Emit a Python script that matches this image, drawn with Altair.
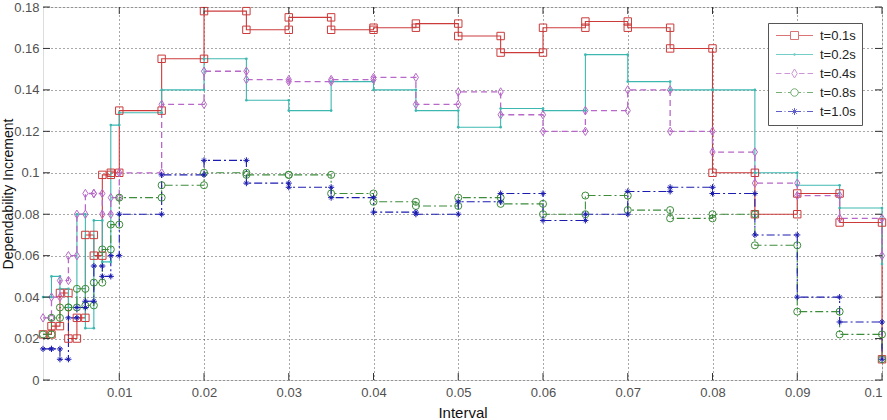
import altair as alt
import pandas as pd

# Interval boundaries (x) shared by every series
x_edges = [0.001, 0.002, 0.003, 0.004, 0.005, 0.006, 0.007, 0.008, 0.009, 0.010,
           0.015, 0.020, 0.025, 0.030, 0.035, 0.040, 0.045, 0.050, 0.055, 0.060,
           0.065, 0.070, 0.075, 0.080, 0.085, 0.090, 0.095, 0.100]

series_names = ["t=0.1s", "t=0.2s", "t=0.4s", "t=0.8s", "t=1.0s"]

# Dependability increment per interval (value holds from x_edges[i] to x_edges[i+1])
inc_t01 = [0.022, 0.026, 0.042, 0.020, 0.030, 0.070, 0.060, 0.099, 0.100, 0.130,
           0.155, 0.178, 0.169, 0.175, 0.169, 0.170, 0.172, 0.166, 0.158, 0.170,
           0.173, 0.170, 0.160, 0.100, 0.080, 0.090, 0.076, 0.010]
inc_t02 = [0.040, 0.050, 0.044, 0.035, 0.080, 0.025, 0.077, 0.057, 0.123, 0.129,
           0.140, 0.155, 0.135, 0.130, 0.144, 0.140, 0.130, 0.122, 0.131, 0.130,
           0.157, 0.144, 0.140, 0.140, 0.100, 0.094, 0.083, 0.056]
inc_t04 = [0.030, 0.040, 0.048, 0.060, 0.080, 0.090, 0.090, 0.080, 0.088, 0.100,
           0.133, 0.149, 0.145, 0.144, 0.145, 0.146, 0.133, 0.139, 0.128, 0.120,
           0.130, 0.140, 0.120, 0.110, 0.095, 0.089, 0.078, 0.060]
inc_t08 = [0.022, 0.030, 0.035, 0.035, 0.044, 0.036, 0.047, 0.063, 0.075, 0.088,
           0.094, 0.100, 0.099, 0.099, 0.090, 0.086, 0.084, 0.088, 0.085, 0.080,
           0.089, 0.082, 0.078, 0.080, 0.065, 0.033, 0.022, 0.010]
inc_t10 = [0.015, 0.015, 0.010, 0.030, 0.035, 0.038, 0.055, 0.050, 0.060, 0.080,
           0.099, 0.106, 0.095, 0.093, 0.088, 0.081, 0.080, 0.086, 0.090, 0.077,
           0.080, 0.091, 0.093, 0.090, 0.070, 0.040, 0.028, 0.010]

x_ticks = [0.01, 0.02, 0.03, 0.04, 0.05, 0.06, 0.07, 0.08, 0.09, 0.1]
y_ticks = [0, 0.02, 0.04, 0.06, 0.08, 0.1, 0.12, 0.14, 0.16, 0.18]

colors = ["#cc3a3a", "#3cb8b0", "#b868c8", "#3c8c3c", "#1c1cb0"]
dashes = [[1, 0], [1, 0], [6, 4], [8, 3, 2, 3], [8, 3, 2, 3]]
line_widths = [1.1, 1.1, 1.3, 1.1, 1.1]
marker_shapes = [
    "square",
    "circle",
    "M0,-1L0.62,0L0,1L-0.62,0Z",
    "circle",
    "M-1,0L1,0M0,-1L0,1M-0.6,-0.6L0.6,0.6M-0.6,0.6L0.6,-0.6",
]
marker_sizes = [55, 7, 70, 50, 38]
marker_filled = [False, True, False, False, False]

# Legend samples: line style plus marker in one symbol path
legend_paths = [
    "M-3.7,0H-0.8M0.8,0H3.7M-0.8,-0.8H0.8V0.8H-0.8Z",
    "M-3.7,0H3.7M-0.2,0A0.2,0.2 0 1,0 0.2,0A0.2,0.2 0 1,0 -0.2,0",
    "M-3.7,0H-2.6M-2.0,0H-0.9M0,-0.9L0.55,0L0,0.9L-0.55,0ZM0.9,0H2.0M2.6,0H3.7",
    "M-3.7,0H-2.5M-2.0,0H-1.8M-1.3,0H-0.75M0.75,0A0.75,0.75 0 1,0 -0.75,0A0.75,0.75 0 1,0 0.75,0M0.75,0H1.3M1.8,0H2.0M2.5,0H3.7",
    "M-3.7,0H-2.5M-2.0,0H-1.8M-1.3,0H-0.2M0.2,0H1.3M1.8,0H2.0M2.5,0H3.7M-0.7,0H0.7M0,-0.7V0.7M-0.45,-0.45L0.45,0.45M-0.45,0.45L0.45,-0.45",
]

W, H = 839, 373
FONT = "Liberation Sans"

# Stair vertices: each step contributes its start and end corner
rows = []
for name, vals in zip(series_names, [inc_t01, inc_t02, inc_t04, inc_t08, inc_t10]):
    k = 0
    for i, v in enumerate(vals):
        if i > 0:
            rows.append({"series": name, "x": x_edges[i], "y": vals[i - 1], "idx": k})
            k += 1
        rows.append({"series": name, "x": x_edges[i], "y": v, "idx": k})
        k += 1
df = pd.DataFrame(rows)

x_scale = alt.Scale(domain=[0.001, 0.1], nice=False, zero=False)
y_scale = alt.Scale(domain=[0, 0.18], nice=False, zero=True)

x_enc = alt.X("x:Q", scale=x_scale, axis=alt.Axis(
    values=x_ticks, format=".2~f", title="Interval", grid=True,
    gridDash=[1, 3], gridColor="#333333", gridOpacity=0.85,
    domain=False, ticks=False, labelFontSize=13, labelColor="#505050",
    labelFont=FONT, labelPadding=6, titleFont=FONT, titleFontSize=15,
    titleFontWeight="normal", titleColor="#111111", titlePadding=6))
y_enc = alt.Y("y:Q", scale=y_scale, axis=alt.Axis(
    values=y_ticks, format=".2~f", title="Dependability Increment", grid=True,
    gridDash=[1, 3], gridColor="#333333", gridOpacity=0.85,
    domain=False, ticks=False, labelFontSize=13, labelColor="#505050",
    labelFont=FONT, labelPadding=4, titleFont=FONT, titleFontSize=14,
    titleFontWeight="normal", titleColor="#111111", titleX=-31,
    titleBaseline="alphabetic"))

base = alt.Chart(df)
color_enc = alt.Color("series:N", scale=alt.Scale(domain=series_names, range=colors), legend=None)

lines = base.mark_line(interpolate="linear").encode(
    x=x_enc, y=y_enc, color=color_enc,
    strokeDash=alt.StrokeDash("series:N", scale=alt.Scale(domain=series_names, range=dashes), legend=None),
    strokeWidth=alt.StrokeWidth("series:N", scale=alt.Scale(domain=series_names, range=line_widths, type="ordinal"), legend=None),
    order=alt.Order("idx:Q"),
)

# One marker layer per series
marker_layers = []
for name, col, shp, sz, fl in zip(series_names, colors, marker_shapes, marker_sizes, marker_filled):
    marker_layers.append(
        base.transform_filter(alt.datum.series == name).mark_point(
            shape=shp, size=sz, filled=fl, color=col, strokeWidth=1, opacity=1
        ).encode(x=alt.X("x:Q", scale=x_scale), y=alt.Y("y:Q", scale=y_scale))
    )

# Inward tick marks on all four sides of the box
xt = pd.DataFrame({"v": x_ticks})
yt = pd.DataFrame({"v": y_ticks})
tick_color = "#333333"
tick_bottom = alt.Chart(xt).mark_rule(color=tick_color, strokeWidth=1).encode(
    x=alt.X("v:Q", scale=x_scale), y=alt.value(H), y2=alt.value(H - 7))
tick_top = alt.Chart(xt).mark_rule(color=tick_color, strokeWidth=1).encode(
    x=alt.X("v:Q", scale=x_scale), y=alt.value(0), y2=alt.value(7))
tick_left = alt.Chart(yt).mark_rule(color=tick_color, strokeWidth=1).encode(
    y=alt.Y("v:Q", scale=y_scale), x=alt.value(0), x2=alt.value(7))
tick_right = alt.Chart(yt).mark_rule(color=tick_color, strokeWidth=1).encode(
    y=alt.Y("v:Q", scale=y_scale), x=alt.value(W), x2=alt.value(W - 7))

# Legend: keyed on its own scales, symbols show line style with marker
legend_df = pd.DataFrame({"key": series_names})
leg = alt.Legend(
    title=None, orient="none", legendX=725, legendY=16,
    symbolSize=100, symbolStrokeWidth=1, symbolOffset=14, labelOffset=19,
    labelFont=FONT, labelFontSize=13, labelColor="#222222",
    strokeColor="#555555", fillColor="#ffffff", padding=6, rowPadding=5,
    symbolFillColor="transparent",
)
legend_layer = alt.Chart(legend_df).transform_filter("false").mark_point(
    filled=False, strokeWidth=1).encode(
    color=alt.Color("key:N", scale=alt.Scale(domain=series_names, range=colors), legend=leg),
    shape=alt.Shape("key:N", scale=alt.Scale(domain=series_names, range=legend_paths), legend=leg),
)

chart = alt.layer(
    lines, *marker_layers, tick_bottom, tick_top, tick_left, tick_right, legend_layer
).resolve_scale(
    color="independent", shape="independent"
).properties(
    width=W, height=H,
    autosize=alt.AutoSizeParams(type="none"),
    padding={"left": 43, "top": 7, "right": 5, "bottom": 40},
).configure_view(
    stroke="#000000", strokeWidth=1
).configure(
    background="#ffffff"
)

chart.save("out.html", embed_options={"renderer": "svg", "actions": False})
